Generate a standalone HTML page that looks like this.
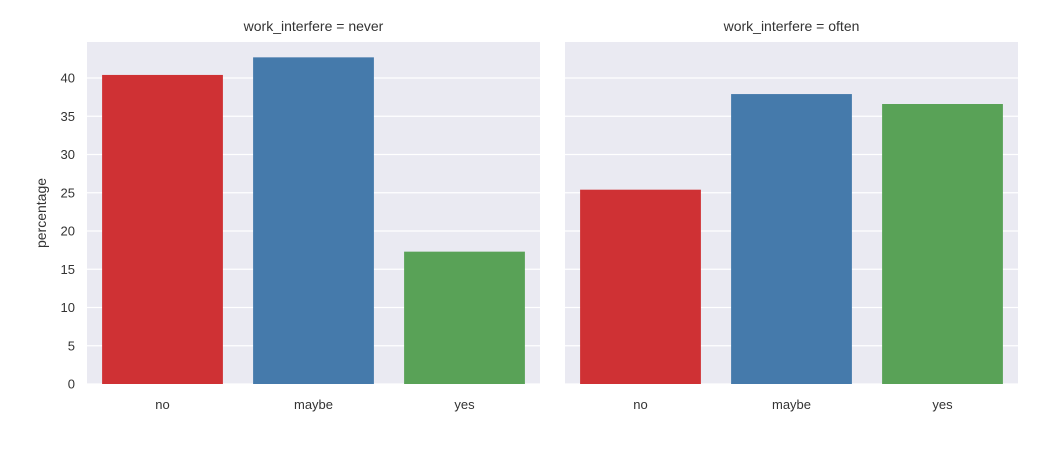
<!DOCTYPE html>
<html><head><meta charset="utf-8"><style>
body{margin:0;background:#fff;font-family:"Liberation Sans",sans-serif;}
</style></head><body>
<svg id="c" width="1038" height="448" xmlns="http://www.w3.org/2000/svg"></svg>
<script>
const categories=["no","maybe","yes"];
const panels=["work_interfere = never","work_interfere = often"];
const neverValues=[40.4,42.7,17.3];
const oftenValues=[25.4,37.9,36.6];
const yTicks=[0,5,10,15,20,25,30,35,40];
const colors=["#cf3134","#457aab","#59a257"];
const svg=document.getElementById('c');
const NS="http://www.w3.org/2000/svg";
const plotTop=42,plotBottom=384,pxPer=7.65;
const y=v=>plotBottom-v*pxPer;
function el(t,a,p){const e=document.createElementNS(NS,t);for(const k in a)e.setAttribute(k,a[k]);(p||svg).appendChild(e);return e;}
const lefts=[87,565],w=453;
[neverValues,oftenValues].forEach((vals,pi)=>{
  const x0=lefts[pi];
  const g=el('g',{});
  
  
  const bg=el('rect',{x:x0,y:plotTop,width:w,height:plotBottom-plotTop,fill:'#eaeaf2'},g);
  
  
  yTicks.forEach(t=>{
    const l=el('line',{x1:x0,x2:x0+w,y1:y(t),y2:y(t),stroke:'#fff','stroke-width':1.2},g);
    
    
    if(pi===0){
      const tx=el('text',{x:x0-12,y:y(t)+4.5,'text-anchor':'end','font-size':13,fill:'#333'},g);
      tx.textContent=t;
      
      
    }
  });
  const band=w/categories.length;
  categories.forEach((c,i)=>{
    const bx=x0+band*i+band*0.1;
    const r=el('rect',{x:bx,y:y(vals[i]),width:band*0.8,height:vals[i]*pxPer,fill:colors[i]},g);
    
    
    const tx=el('text',{x:x0+band*(i+0.5),y:409,'text-anchor':'middle','font-size':13,fill:'#333'},g);
    tx.textContent=c;
    
    
  });
  const tt=el('text',{x:x0+w/2,y:31,'text-anchor':'middle','font-size':14,fill:'#333'},g);
  tt.textContent=panels[pi];
  
  
});
const yl=el('text',{x:46,y:213,'text-anchor':'middle','font-size':14,fill:'#333',transform:'rotate(-90 46 213)'});
yl.textContent='percentage';


</script>
</body></html>
